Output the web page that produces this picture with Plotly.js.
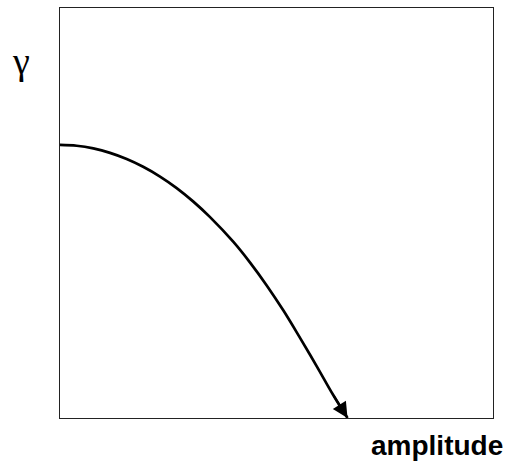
<!DOCTYPE html>
<html>
<head>
<meta charset="utf-8">
<script src="https://cdn.plot.ly/plotly-3.0.1.min.js"></script>
<style>html,body{margin:0;padding:0;background:#fff;}#chart{width:506px;height:461px;}</style>
</head>
<body>
<div id="chart"></div>
<script>
// Curve: growth rate gamma vs amplitude (normalised units)
var amplitude = [0, 0.0386, 0.0769, 0.1155, 0.154, 0.192, 0.231, 0.2695, 0.308, 0.346, 0.400, 0.439, 0.477, 0.516, 0.554, 0.593, 0.631, 0.664];
var gamma     = [0.666, 0.664, 0.6575, 0.6467, 0.6317, 0.6127, 0.5889, 0.5608, 0.5277, 0.4905, 0.430, 0.379, 0.324, 0.262, 0.196, 0.126, 0.056, 0.0];
var xLabel = 'amplitude';
var yLabel = 'γ';

var n = amplitude.length;
var trace = {
  x: amplitude, y: gamma, type: 'scatter', mode: 'lines',
  line: {color: '#000', width: 2.7, shape: 'spline', smoothing: 1},
  hoverinfo: 'none', showlegend: false
};

var layout = {
  width: 506, height: 461,
  margin: {l: 60, r: 13, t: 8, b: 43},
  paper_bgcolor: '#fff', plot_bgcolor: '#fff',
  xaxis: {range: [0, 1], showgrid: false, zeroline: false, showticklabels: false, ticks: '',
          showline: true, mirror: true, linecolor: '#222', linewidth: 1.2},
  yaxis: {range: [0, 1], showgrid: false, zeroline: false, showticklabels: false, ticks: '',
          showline: true, mirror: true, linecolor: '#222', linewidth: 1.2},
  annotations: [
    {x: amplitude[n-1], y: gamma[n-1], ax: amplitude[n-2], ay: gamma[n-2], axref: 'x', ayref: 'y',
     xref: 'x', yref: 'y', text: '', showarrow: true, arrowhead: 2, arrowsize: 1.4, arrowwidth: 2.2,
     arrowcolor: '#000', standoff: 0},
    {xref: 'paper', yref: 'paper', x: -0.09, y: 0.87, xanchor: 'center', yanchor: 'middle',
     text: yLabel, showarrow: false, font: {family: 'Liberation Serif, serif', size: 38, color: '#000'}},
    {xref: 'paper', yref: 'paper', x: 1.028, y: -0.068, xanchor: 'right', yanchor: 'middle',
     text: '<b>' + xLabel + '</b>', showarrow: false,
     font: {family: 'Liberation Sans, Arial, sans-serif', size: 28, color: '#000'}}
  ]
};

Plotly.newPlot('chart', [trace], layout, {staticPlot: true, displayModeBar: false});
</script>
</body>
</html>
